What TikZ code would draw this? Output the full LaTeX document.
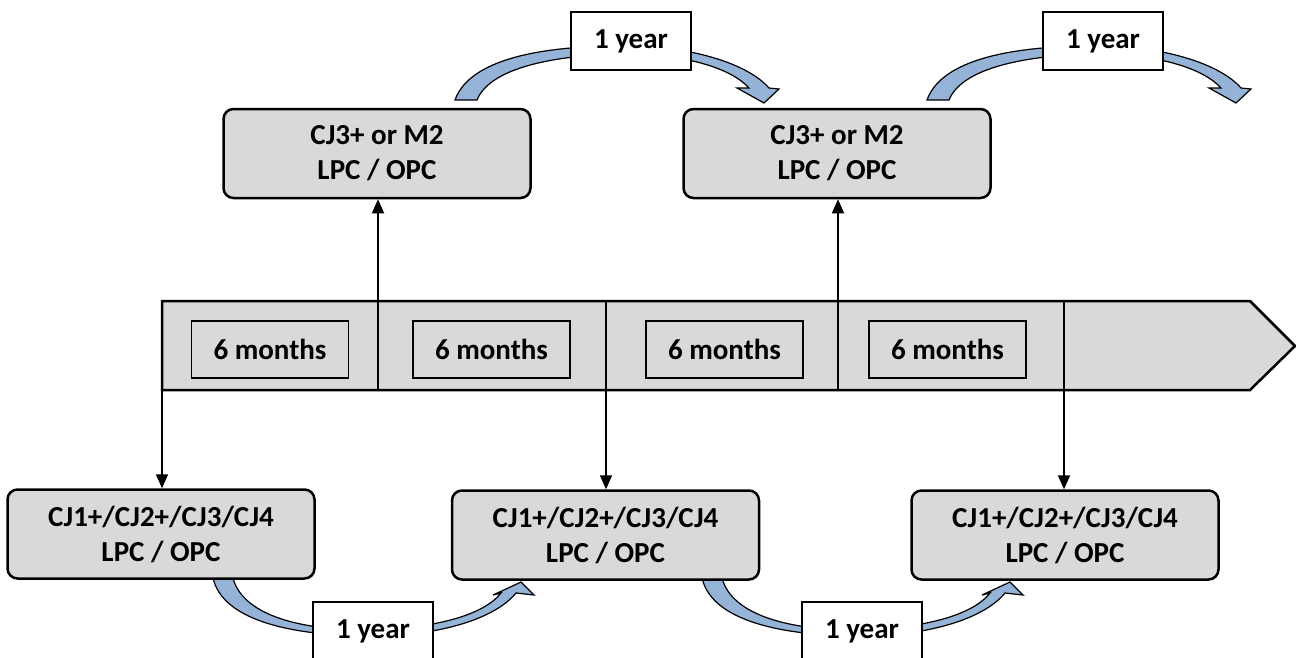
\documentclass[tikz,border=0pt]{standalone}
\usepackage{fontspec}
\setmainfont{Carlito}
\usetikzlibrary{arrows.meta}
\definecolor{boxgray}{HTML}{D9D9D9}
\definecolor{arcblue}{HTML}{95B3D7}
\begin{document}
\begin{tikzpicture}[x=1pt,y=-1pt,
  every node/.style={font=\bfseries\fontsize{29}{35}\selectfont},
  grade/.style={draw,line width=2.5pt,fill=boxgray,rounded corners=10pt,align=center,
    minimum width=307pt,minimum height=89pt,inner sep=0pt},
  period/.style={draw,line width=1.8pt,minimum width=157pt,minimum height=57pt,inner sep=0pt},
  yearbox/.style={draw,line width=1.8pt,fill=white,minimum width=120pt,minimum height=58pt,inner sep=0pt},
  link/.style={line width=1.8pt,-{Triangle[length=14pt,width=12pt]}},
  arcover/.pic={
    \filldraw[fill=arcblue,line width=1.2pt]
      (-176,59) .. controls (-160,14) and (-75,4) .. (0,5)
      .. controls (65,6) and (118,24) .. (138,47)
      -- (148,48) -- (133,62) -- (106,47) -- (118,47)
      .. controls (100,27) and (55,14) .. (0,13)
      .. controls (-66,13) and (-140,24) .. (-154,59) -- cycle;},
  arcunder/.pic={
    \filldraw[fill=arcblue,line width=1.2pt]
      (-160,-53) .. controls (-150,-10) and (-80,5) .. (0,5)
      .. controls (60,5) and (120,-10) .. (143,-38)
      -- (161,-36) -- (148,-49) -- (120,-36) -- (128,-38)
      .. controls (110,-15) and (60,-3) .. (0,-1)
      .. controls (-70,0) and (-130,-15) .. (-140,-53) -- cycle;}]
\useasboundingbox (0,0) rectangle (1296,657);

% time line
\draw[line width=2.5pt,fill=boxgray] (162,301) -- (1250,301) -- (1295,346) -- (1250,390) -- (162,390) -- cycle;
\foreach \x in {378,606,838,1064}
  \draw[line width=1.8pt] (\x,301) -- (\x,390);
\node[period] (m1) at (270,349.5) {6 months};
\node[period] (m2) at (491.5,349.5) {6 months};
\node[period] (m3) at (724.5,349.5) {6 months};
\node[period] (m4) at (947.5,349.5) {6 months};
\coordinate (s0) at (162,301);
\coordinate (s1) at (378,390);
\coordinate (s2) at (606,301);
\coordinate (s3) at (838,390);
\coordinate (s4) at (1064,301);

% yearly steps
\coordinate (c1) at (631,41);
\coordinate (c2) at (1103,41);
\coordinate (c3) at (373,631);
\coordinate (c4) at (862,631);
\pic at (c1) {arcover};
\pic at (c2) {arcover};
\pic at (c3) {arcunder};
\pic at (c4) {arcunder};

\node[grade] (up1) at (377,153.5) {CJ3+ or M2\\LPC / OPC};
\node[grade] (up2) at (837,153.5) {CJ3+ or M2\\LPC / OPC};
\node[grade] (low1) at (161,534) {CJ1+/CJ2+/CJ3/CJ4\\LPC / OPC};
\node[grade] (low2) at (605.5,535) {CJ1+/CJ2+/CJ3/CJ4\\LPC / OPC};
\node[grade] (low3) at (1065,535) {CJ1+/CJ2+/CJ3/CJ4\\LPC / OPC};

\node[yearbox] (yr1) at (c1) {1 year};
\node[yearbox] (yr2) at (c2) {1 year};
\node[yearbox] (yr3) at (c3) {1 year};
\node[yearbox] (yr4) at (c4) {1 year};

\draw[link] (s0) -- (s0 |- low1.north);
\draw[link] (s1) -- (s1 |- up1.south);
\draw[link] (s2) -- (s2 |- low2.north);
\draw[link] (s3) -- (s3 |- up2.south);
\draw[link] (s4) -- (s4 |- low3.north);
\end{tikzpicture}
\end{document}
